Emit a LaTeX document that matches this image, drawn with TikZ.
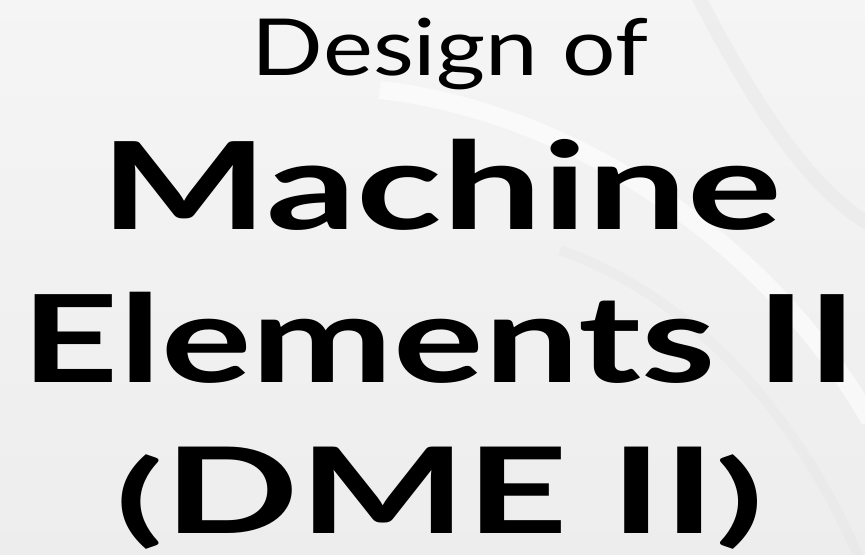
\documentclass[tikz,border=0pt]{standalone}
\usepackage{fontspec}
\setmainfont{Lato}
\usepackage{graphicx}
\usepackage{tikz}

\newcommand{\shortpar}[1]{\scalebox{1}[0.84]{#1}}

\begin{document}
\begin{tikzpicture}[x=1bp,y=-1bp]

	% background
	\useasboundingbox (0,0) rectangle (865,555);
	\shade[top color=white!96!black, bottom color=white!93!black] (0,0) rectangle (865,555);
	\fill[white, opacity=0.5] (600,0) arc (180:270:265 and 300) -- (865,0) -- cycle;
	\draw[white!88!black, line width=14bp, opacity=0.3] (690,-20) .. controls (760,120) and (820,200) .. (880,230);
	\draw[white!89!black, line width=10bp, opacity=0.3] (560,250) .. controls (700,300) and (800,420) .. (860,560);
	\draw[white, line width=18bp, opacity=0.6] (380,90) .. controls (560,110) and (760,230) .. (870,420);

	\node[anchor=base, inner sep=0pt, font=\fontsize{79}{90}\selectfont] (design) at (450, 76) {\resizebox{396bp}{\height}{Design of}};
	\node[anchor=base, inner sep=0pt, font=\fontsize{122}{130}\selectfont] (machine) at (441.5, 229.3) {\resizebox{681bp}{\height}{\textbf{Machine}}};
	\node[anchor=base, inner sep=0pt, font=\fontsize{122}{130}\selectfont] (elements) at (439.5, 382.7) {\resizebox{835bp}{\height}{\textbf{Elements II}}};
	\node[anchor=base, inner sep=0pt, font=\fontsize{120}{130}\selectfont] (dme) at (440, 533) {\resizebox{648bp}{\height}{\textbf{\shortpar{(}DME II\shortpar{)}}}};

\end{tikzpicture}
\end{document}
